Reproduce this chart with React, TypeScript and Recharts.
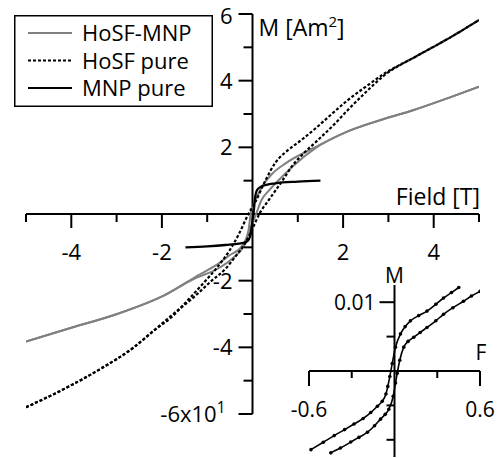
import React from 'react';
import { LineChart, Line, XAxis, YAxis, ReferenceLine, ReferenceDot, Legend } from 'recharts';

// ---------- main chart data (Field [T] vs M [Am^2] x10) ----------
const hosfMnpDescX = [-5, -4.09, -2.99, -1.96, -1.15, -0.82, -0.52, -0.23, -0.09, -0.04, 0.06, 0.21, 0.43, 0.73, 1.35, 2.09, 2.83, 3.56, 4.3, 5];
const hosfMnpDescY = [-3.83, -3.45, -3.0, -2.45, -1.8, -1.55, -1.25, -0.96, -0.5, 0, 0.4, 0.82, 1.2, 1.52, 1.98, 2.47, 2.82, 3.12, 3.47, 3.82];
const hosfMnpAscX = [-5, -4.09, -2.99, -1.96, -1.3, -0.74, -0.45, -0.2, -0.05, 0.08, 0.2, 0.36, 0.58, 0.88, 1.35, 2.09, 2.83, 3.56, 4.3, 5];
const hosfMnpAscY = [-3.83, -3.45, -3.0, -2.45, -1.95, -1.62, -1.34, -0.98, -0.45, 0, 0.42, 0.7, 1.02, 1.42, 1.94, 2.47, 2.82, 3.12, 3.47, 3.82];

const hosfDescX = [-5, -4.09, -3.36, -2.62, -2.18, -1.75, -1.44, -1.1, -0.78, -0.5, -0.3, -0.09, 0.07, 0.29, 0.51, 0.77, 1.06, 1.4, 1.65, 2.09, 2.46, 2.9, 3.64, 4.37, 5];
const hosfDescY = [-5.8, -5.2, -4.65, -4.0, -3.5, -3.05, -2.6, -2.1, -1.6, -1.08, -0.6, 0, 0.38, 1.02, 1.55, 1.9, 2.2, 2.58, 2.88, 3.4, 3.78, 4.2, 4.75, 5.3, 5.82];
const hosfAscX = [-5, -4.09, -3.36, -2.62, -2.18, -1.75, -1.3, -0.9, -0.6, -0.38, -0.15, 0.03, 0.15, 0.36, 0.66, 0.88, 1.1, 1.43, 1.87, 2.09, 2.46, 2.9, 3.64, 4.37, 5];
const hosfAscY = [-5.8, -5.2, -4.65, -4.0, -3.5, -3.0, -2.5, -2.0, -1.65, -1.28, -0.85, -0.35, 0, 0.42, 1.0, 1.45, 1.78, 2.2, 2.78, 3.1, 3.6, 4.15, 4.75, 5.3, 5.82];

const mnpX = [-1.48, -1.0, -0.6, -0.3, -0.15, -0.08, -0.04, -0.01, 0.03, 0.06, 0.1, 0.2, 0.5, 1.0, 1.5];
const mnpY = [-1.0, -0.97, -0.93, -0.89, -0.84, -0.76, -0.6, -0.3, 0.12, 0.52, 0.72, 0.83, 0.92, 0.97, 1.0];

const xTicks = [-5, -4, -3, -2, -1, 1, 2, 3, 4, 5];
const xTickLabels = ['', '-4', '', '-2', '', '', '2', '', '4', ''];
const yTicks = [6, 5, 4, 3, 2, 1, -1, -2, -3, -4, -5, -6];
const yTickLabels = ['6', '', '4', '', '2', '', '', '-2', '', '-4', '', '-6x10'];

const seriesNames = ['HoSF-MNP', 'HoSF pure', 'MNP pure'];
const seriesColors = ['#808080', '#000000', '#000000'];
const seriesDash = ['', '3 2', ''];

// ---------- inset data (F vs M) ----------
const insetUpperX = [-0.586, -0.5, -0.423, -0.35, -0.284, -0.22, -0.167, -0.12, -0.086, -0.06, -0.047, -0.033, -0.016, 0.007, 0.042, 0.075, 0.112, 0.17, 0.228, 0.29, 0.344, 0.4, 0.451];
const insetUpperY = [-0.01143, -0.01035, -0.00939, -0.00852, -0.00771, -0.0069, -0.00604, -0.00512, -0.00439, -0.00335, -0.00224, -0.00081, 0.0011, 0.00347, 0.00539, 0.00645, 0.00729, 0.00805, 0.00871, 0.0097, 0.01061, 0.0114, 0.01214];
const insetLowerX = [-0.447, -0.38, -0.307, -0.25, -0.19, -0.14, -0.098, -0.065, -0.04, -0.009, 0.007, 0.019, 0.037, 0.065, 0.095, 0.135, 0.18, 0.228, 0.29, 0.344, 0.41, 0.484, 0.54, 0.6];
const insetLowerY = [-0.0119, -0.0112, -0.01033, -0.00965, -0.0089, -0.00795, -0.007, -0.0063, -0.00557, -0.00367, -0.00176, -0.00033, 0.00157, 0.00347, 0.0043, 0.0049, 0.0056, 0.00633, 0.0073, 0.00824, 0.0092, 0.01014, 0.0109, 0.01157];

const insetXTicks = [-0.6, -0.3, 0.3, 0.6];
const insetXTickLabels = ['-0.6', '', '', '0.6'];
const insetYTicks = [0.01, 0.005, -0.005, -0.01];
const insetYTickLabels = ['0.01', '', '', ''];

const zip = (xs: number[], ys: number[]) => xs.map((x, i) => ({ x, y: ys[i] }));

const FONT = '"Open Sans", sans-serif';

const LegendBox = () => (
  <svg width={199} height={92} style={{ display: 'block' }}>
    <rect x={0.75} y={0.75} width={197.5} height={90.5} fill="#fff" stroke="#000" strokeWidth={1.5} />
    {seriesNames.map((n, i) => {
      const cy = 18 + i * 27.5;
      return (
        <g key={n}>
          <line x1={14} x2={58} y1={cy} y2={cy} stroke={seriesColors[i]} strokeWidth={2} strokeDasharray={seriesDash[i] || undefined} />
          <text x={68} y={cy + 8} fontFamily={FONT} fontSize={22} fill="#000">{n}</text>
        </g>
      );
    })}
  </svg>
);

const makeXTick = (label: string, major: boolean, len: number, minorLen: number, fs: number, dy: number) => (p: any) => (
  <g>
    <line x1={p.cx} x2={p.cx} y1={p.cy} y2={p.cy + (major ? len : minorLen)} stroke="#000" strokeWidth={2} />
    {label ? (
      <text x={p.cx} y={p.cy + dy} textAnchor="middle" fontFamily={FONT} fontSize={fs} fill="#000">{label}</text>
    ) : null}
  </g>
);

const makeYTick = (label: string, major: boolean, len: number, minorLen: number, fs: number, dx: number, sup?: string, shift = 0) => (p: any) => (
  <g>
    <line x1={p.cx - (major ? len : minorLen)} x2={p.cx} y1={p.cy} y2={p.cy} stroke="#000" strokeWidth={2} />
    {label ? (
      <text x={p.cx - dx} y={p.cy + fs * 0.36 + shift} textAnchor="end" fontFamily={FONT} fontSize={fs} fill="#000">
        {label}
        {sup ? <tspan fontSize={fs * 0.7} dy={-9}>{sup}</tspan> : null}
      </text>
    ) : null}
  </g>
);

const MainChart = () => (
  <LineChart width={497} height={458} margin={{ top: 14, right: 18, bottom: 44, left: 26 }}>
    <XAxis type="number" dataKey="x" domain={[-5, 5]} allowDataOverflow hide />
    <YAxis type="number" dataKey="y" domain={[-6, 6]} allowDataOverflow hide />
    <ReferenceLine y={0} stroke="#000" strokeWidth={2} />
    <ReferenceLine x={0} stroke="#000" strokeWidth={2} />
    {xTicks.map((t, i) => (
      <ReferenceDot key={'xt' + t} x={t} y={0} r={0} shape={makeXTick(xTickLabels[i], t % 2 === 0, 14, 8, 22, 46)} />
    ))}
    {yTicks.map((t, i) => (
      <ReferenceDot key={'yt' + t} x={0} y={t} r={0} shape={makeYTick(yTickLabels[i], t % 2 === 0, 14, 9, 22, t === -6 ? 27 : 20, t === -6 ? '1' : undefined, t === 6 ? 2 : 0)} />
    ))}
    <ReferenceDot x={0} y={6} r={0} shape={(p: any) => (
      <text x={p.cx + 6} y={p.cy + 22} fontFamily={FONT} fontSize={23} fill="#000">
        M [Am<tspan fontSize={15} dy={-9}>2</tspan><tspan dy={9}>]</tspan>
      </text>
    )} />
    <ReferenceDot x={5} y={0} r={0} shape={(p: any) => (
      <text x={p.cx + 1} y={p.cy - 9} textAnchor="end" fontFamily={FONT} fontSize={23} fill="#000">Field [T]</text>
    )} />
    <Line data={zip(hosfMnpDescX, hosfMnpDescY)} dataKey="y" name={seriesNames[0]} type="monotone" stroke={seriesColors[0]} strokeWidth={2} dot={false} isAnimationActive={false} />
    <Line data={zip(hosfMnpAscX, hosfMnpAscY)} dataKey="y" name={seriesNames[0] + ' '} legendType="none" type="monotone" stroke={seriesColors[0]} strokeWidth={2} dot={false} isAnimationActive={false} />
    <Line data={zip(hosfDescX, hosfDescY)} dataKey="y" name={seriesNames[1]} type="monotone" stroke={seriesColors[1]} strokeWidth={2.2} strokeDasharray={seriesDash[1]} dot={false} isAnimationActive={false} />
    <Line data={zip(hosfAscX, hosfAscY)} dataKey="y" name={seriesNames[1] + ' '} legendType="none" type="monotone" stroke={seriesColors[1]} strokeWidth={2.2} strokeDasharray={seriesDash[1]} dot={false} isAnimationActive={false} />
    <Line data={zip(mnpX, mnpY)} dataKey="y" name={seriesNames[2]} type="monotone" stroke={seriesColors[2]} strokeWidth={2.3} dot={false} isAnimationActive={false} />
    <Legend layout="horizontal" verticalAlign="middle" align="center" content={() => <LegendBox />} wrapperStyle={{ left: 14, top: 15, width: 199, height: 92 }} />
  </LineChart>
);

const InsetChart = () => (
  <LineChart width={217} height={196} margin={{ top: 23, right: 17, bottom: 1, left: 29 }}>
    <XAxis type="number" dataKey="x" domain={[-0.6, 0.6]} allowDataOverflow hide />
    <YAxis type="number" dataKey="y" domain={[-0.0125, 0.0125]} allowDataOverflow hide />
    <ReferenceLine y={0} stroke="#000" strokeWidth={2} />
    <ReferenceLine x={0} stroke="#000" strokeWidth={2} />
    {insetXTicks.map((t, i) => (
      <ReferenceDot key={'ixt' + t} x={t} y={0} r={0} shape={makeXTick(insetXTickLabels[i], Math.abs(t) > 0.5, 15, 7, 21, 46)} />
    ))}
    {insetYTicks.map((t, i) => (
      <ReferenceDot key={'iyt' + t} x={0} y={t} r={0} shape={makeYTick(insetYTickLabels[i], t === 0.01, 15, 8, 21, 19)} />
    ))}
    <ReferenceDot x={0} y={0.0125} r={0} shape={(p: any) => (
      <text x={p.cx} y={p.cy - 2} textAnchor="middle" fontFamily={FONT} fontSize={21} fill="#000">M</text>
    )} />
    <ReferenceDot x={0.6} y={0} r={0} shape={(p: any) => (
      <text x={p.cx + 1} y={p.cy - 11} textAnchor="middle" fontFamily={FONT} fontSize={21} fill="#000">F</text>
    )} />
    <Line data={zip(insetUpperX, insetUpperY)} dataKey="y" type="monotone" stroke="#000" strokeWidth={1.6} dot={{ r: 1.8, fill: '#000', stroke: '#000', strokeWidth: 0 }} isAnimationActive={false} />
    <Line data={zip(insetLowerX, insetLowerY)} dataKey="y" type="monotone" stroke="#000" strokeWidth={1.6} dot={{ r: 1.8, fill: '#000', stroke: '#000', strokeWidth: 0 }} isAnimationActive={false} />
  </LineChart>
);

export default function App() {
  return (
    <div style={{ position: 'fixed', left: 0, top: 0, width: 497, height: 458, background: '#fff' }}>
      <MainChart />
      <div style={{ position: 'absolute', left: 280, top: 262 }}>
        <InsetChart />
      </div>
    </div>
  );
}
